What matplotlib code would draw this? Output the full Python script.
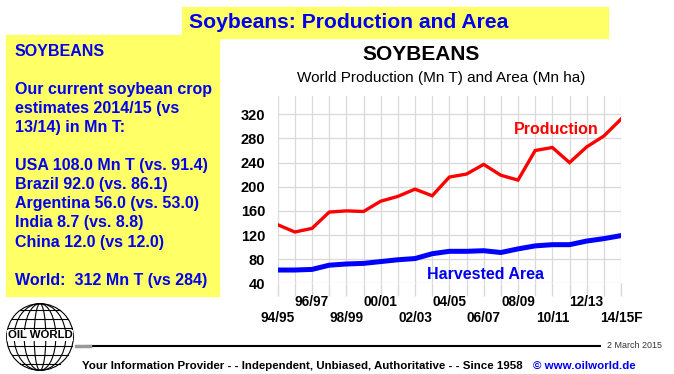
"""Soybeans: world production and harvested area, Oil World slide style."""

import matplotlib

matplotlib.use("Agg")
import matplotlib.pyplot as plt
import numpy as np
from matplotlib.lines import Line2D
from matplotlib.patches import Ellipse, Rectangle

# ==============================================================================
# DATA
# ==============================================================================

seasons = [
    "94/95", "95/96", "96/97", "97/98", "98/99", "99/00", "00/01", "01/02",
    "02/03", "03/04", "04/05", "05/06", "06/07", "07/08", "08/09", "09/10",
    "10/11", "11/12", "12/13", "13/14", "14/15F",
]
production = [137, 125, 131, 158, 160, 159, 176, 184, 196, 185, 216,
              221, 237, 219, 211, 260, 265, 240, 266, 284, 312]
harvested_area = [62, 62, 63, 70, 72, 73, 76, 79, 81, 89, 93,
                  93, 94, 91, 97, 102, 104, 104, 110, 114, 119]
y_ticks = [40, 80, 120, 160, 200, 240, 280, 320]

side_lines = [
    "SOYBEANS", "",
    "Our current soybean crop", "estimates 2014/15 (vs", "13/14) in Mn T:", "",
    "USA 108.0 Mn T (vs. 91.4)", "Brazil 92.0 (vs. 86.1)",
    "Argentina 56.0 (vs. 53.0)", "India 8.7 (vs. 8.8)", "China 12.0 (vs 12.0)", "",
    "World:  312 Mn T (vs 284)",
]

# ==============================================================================
# STYLE
# ==============================================================================

W, H = 674, 374
YELLOW = "#ffff66"
BLUE = "#0000ee"
RED = "#ff0000"
GRID = "#d9d9d9"

plt.rcParams["font.family"] = ["Liberation Sans", "DejaVu Sans"]


def fx(px):
    return px / W


def fy(py):
    return 1 - py / H


fig = plt.figure(figsize=(W / 100, H / 100), dpi=100)
fig.patch.set_facecolor("white")

# yellow boxes
fig.add_artist(Rectangle((fx(6), fy(296)), fx(219) - fx(6), fy(35) - fy(296),
                         transform=fig.transFigure, color=YELLOW, zorder=0))
fig.add_artist(Rectangle((fx(182), fy(38)), fx(608) - fx(182), fy(7) - fy(38),
                         transform=fig.transFigure, color=YELLOW, zorder=0))
fig.text(fx(189), fy(23), "Soybeans: Production and Area", color=BLUE,
         fontsize=15.2, fontweight="bold", va="center", ha="left")

for i, line in enumerate(side_lines):
    if line:
        fig.text(fx(15), fy(51 + 19.1 * i), line, color=BLUE, fontsize=11.5,
                 fontweight="bold", va="center", ha="left")

fig.text(fx(421), fy(55), "SOYBEANS", fontsize=15, fontweight="bold",
         ha="center", va="center")
fig.text(fx(441), fy(78), "World Production (Mn T) and Area (Mn ha)",
         fontsize=11, ha="center", va="center")

# ==============================================================================
# CHART
# ==============================================================================

ax = fig.add_axes([fx(277.7), fy(283.3), fx(621) - fx(277.7), fy(96.2) - fy(283.3)])
x = np.arange(len(seasons))
ax.plot(x, production, color=RED, linewidth=2.4, solid_joinstyle="miter", zorder=3)
ax.plot(x, harvested_area, color="#0000ff", linewidth=3.6, zorder=3)

ax.set_xlim(0, len(seasons) - 1)
ax.set_ylim(40, 350)
ax.set_yticks(y_ticks)
ax.set_xticks(x)
ax.set_xticklabels([])
ax.tick_params(axis="y", length=0, pad=9, labelsize=10.5)
ax.tick_params(axis="x", length=9.5, color=GRID, width=1)
for lbl in ax.get_yticklabels():
    lbl.set_fontweight("bold")
ax.grid(True, color=GRID, linewidth=0.9)
ax.set_axisbelow(True)
for s in ax.spines.values():
    s.set_visible(False)

for i, name in enumerate(seasons):
    if i % 2:
        continue
    ypos = -0.0995 if i % 4 else -0.185
    ax.text(i, ypos, name, transform=ax.get_xaxis_transform(), ha="center",
            va="center", fontsize=9.8, fontweight="bold", clip_on=False)

ax.text(13.76, 294, "Production", color=RED, fontsize=11.5, fontweight="bold",
        ha="left", va="center")
ax.text(8.7, 54, "Harvested Area", color=BLUE, fontsize=11.5, fontweight="bold",
        ha="left", va="center")

# ==============================================================================
# FOOTER
# ==============================================================================

fig.add_artist(Line2D([fx(88), fx(600)], [fy(346), fy(346)], color="black",
                      linewidth=1.5, transform=fig.transFigure))
fig.add_artist(Line2D([fx(76), fx(90)], [fy(346), fy(346)], color="#999999",
                      linewidth=2.5, transform=fig.transFigure))
fig.text(fx(607), fy(346), "2 March 2015", fontsize=6.4, color="#333333",
         ha="left", va="center")
fig.text(fx(82), fy(366), "Your Information Provider - - Independent, Unbiased, "
         "Authoritative - - Since 1958", fontsize=8.25, fontweight="bold",
         ha="left", va="center")
fig.text(fx(533), fy(366), "\u00a9 www.oilworld.de", fontsize=8.25,
         fontweight="bold", color=BLUE, ha="left", va="center")

# globe logo
lg = fig.add_axes([fx(5), fy(372), fx(75) - fx(5), fy(302) - fy(372)])
lg.set_xlim(-1.05, 1.05)
lg.set_ylim(-1.05, 1.05)
lg.set_aspect("equal")
lg.axis("off")
for w in [2.0, 1.55, 0.95, 0.35]:
    lg.add_patch(Ellipse((0, 0), w, 2.0, fill=False, linewidth=0.8, color="black"))
for lat in np.linspace(-0.8, 0.8, 7):
    half = np.sqrt(1 - lat ** 2)
    lg.plot([-half, half], [lat, lat], color="black", linewidth=0.8)
lg.text(0, 0.05, "OIL WORLD", fontsize=8.2, fontweight="bold", ha="center",
        va="center", bbox=dict(facecolor="white", edgecolor="none", pad=0.6),
        clip_on=False)

fig.savefig("out.png", dpi=100)
